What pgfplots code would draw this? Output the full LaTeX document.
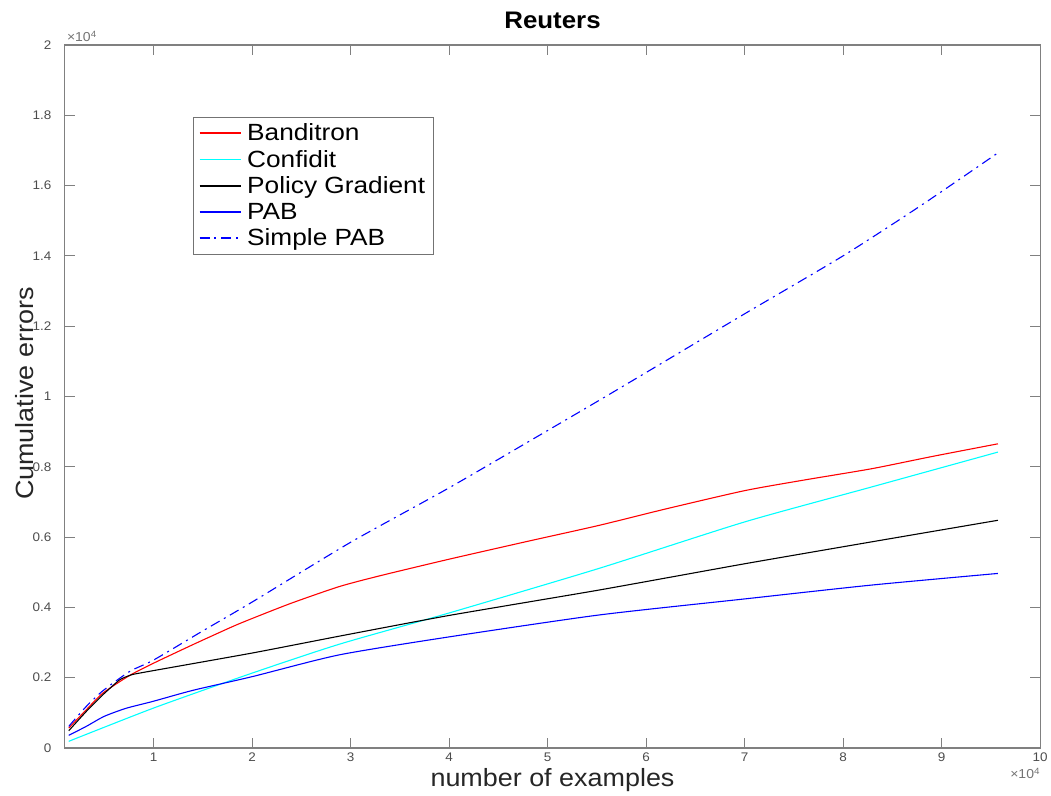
\documentclass[border=0pt]{standalone}
\usepackage{pgfplots}
\pgfplotsset{compat=1.18}
\usepackage{fontspec}
\setmainfont[FakeStretch=1.08]{Liberation Sans}
\newfontfamily\legfont[FakeStretch=1.12]{Liberation Sans}
\definecolor{mred}{rgb}{1,0,0}
\definecolor{mcyan}{rgb}{0,1,1}
\definecolor{mblue}{rgb}{0,0,1}
\definecolor{mframe}{rgb}{0.45,0.45,0.45}

\pgfplotstableread{
x y
1400 567
3180 1087
4860 1560
7570 2062
10000 2411
14000 2940
18000 3450
20070 3690
24000 4120
28840 4590
33000 4900
40000 5370
48000 5880
55190 6330
62000 6800
70000 7320
76000 7620
82880 7943
89000 8290
95710 8652
}\banditron

\pgfplotstableread{
x y
1400 190
10000 1135
19700 2100
28840 2950
40000 3840
55190 5106
70000 6430
82880 7424
95710 8417
}\confidit

\pgfplotstableread{
x y
1400 491
3180 1040
4860 1513
6560 1938
7570 2062
8580 2130
20000 2700
28840 3180
40000 3770
55190 4491
70000 5240
82880 5863
95710 6477
}\policy

\pgfplotstableread{
x y
1400 360
3180 615
5000 900
7230 1130
10000 1330
14000 1640
20070 2033
28840 2648
40000 3160
55190 3782
70000 4240
82880 4634
95710 4965
}\pab

\pgfplotstableread{
x y
1400 615
3180 1182
4860 1626
7570 2175
10000 2500
15000 3330
20070 4161
30000 5850
40000 7400
50000 9030
55190 9881
60000 10680
70000 12350
80000 14000
88000 15450
95710 16928
}\simplepab

\begin{document}
\begin{tikzpicture}
\begin{axis}[
  scale only axis,
  width=978pt, height=705pt,
  xmin=1000, xmax=100000, ymin=0, ymax=20000,
  scaled ticks=false,
  xtick={10000,20000,30000,40000,50000,60000,70000,80000,90000,100000},
  xticklabels={1,2,3,4,5,6,7,8,9,10},
  ytick={0,2000,4000,6000,8000,10000,12000,14000,16000,18000,20000},
  yticklabels={0,0.2,0.4,0.6,0.8,1,1.2,1.4,1.6,1.8,2},
  tick align=inside,
  major tick length=10pt,
  axis line style={draw=black!50, line width=1.3pt},
  every tick/.style={draw=black!50, line width=1pt},
  /pgf/number format/assume math mode=true,
  tick label style={font=\fontsize{12.5}{14}\selectfont, text=black!70},
  yticklabel style={xshift=-10pt},
  xticklabel style={yshift=-1pt},
  title={\textbf{Reuters}},
  title style={font=\fontsize{24}{28}\selectfont, at={(axis description cs:0.5,1)}, anchor=base, yshift=10pt},
  xlabel={number of examples},
  xlabel style={font=\fontsize{25}{29}\selectfont, text=black!85, at={(axis description cs:0.5,-0.055)}, anchor=base},
  ylabel={Cumulative errors},
  ylabel style={font=\fontsize{25}{29}\selectfont, text=black!85, at={(axis description cs:-0.041,0.504)}, anchor=center},
  legend style={at={(axis description cs:0.131,0.898)}, anchor=north west,
    draw=mframe, font=\legfont\fontsize{23.5}{25}\selectfont,
    row sep=4pt, inner xsep=6pt, inner ysep=5pt,
    /tikz/every odd column/.append style={column sep=3pt}},
  legend cell align=left,
  legend image code/.code={%
    \pgfsetlinewidth{1.5pt}%
    \pgfpathmoveto{\pgfpoint{0pt}{0pt}}\pgfpathlineto{\pgfpoint{42pt}{0pt}}%
    \pgfusepath{stroke}},
]
\addplot[mred, line width=1.1pt, smooth, tension=0.4] table[x=x,y=y] {\banditron};
\addlegendentry{Banditron}
\addplot[mcyan, line width=1.1pt, smooth, tension=0.4] table[x=x,y=y] {\confidit};
\addlegendentry{Confidit}
\addplot[black, line width=1.1pt, smooth, tension=0.3] table[x=x,y=y] {\policy};
\addlegendentry{Policy Gradient}
\addplot[mblue, line width=1.1pt, smooth, tension=0.4] table[x=x,y=y] {\pab};
\addlegendentry{PAB}
\addplot[mblue, line width=1.1pt, smooth, tension=0.4, dash pattern=on 10pt off 5pt on 2pt off 5pt] table[x=x,y=y] {\simplepab};
\addlegendentry{Simple PAB}
\end{axis}
\node[anchor=south west, font=\fontsize{13}{15}\selectfont, text=black!55, inner sep=0pt] at ([xshift=2pt,yshift=3pt]current axis.north west) {×10\textsuperscript{4}};
\node[anchor=north east, font=\fontsize{13}{15}\selectfont, text=black!55, inner sep=0pt] at ([xshift=0pt,yshift=-20pt]current axis.south east) {×10\textsuperscript{4}};
\useasboundingbox ([xshift=-65pt,yshift=-46pt]current axis.south west) rectangle ([xshift=8pt,yshift=45pt]current axis.north east);
\end{tikzpicture}
\end{document}
